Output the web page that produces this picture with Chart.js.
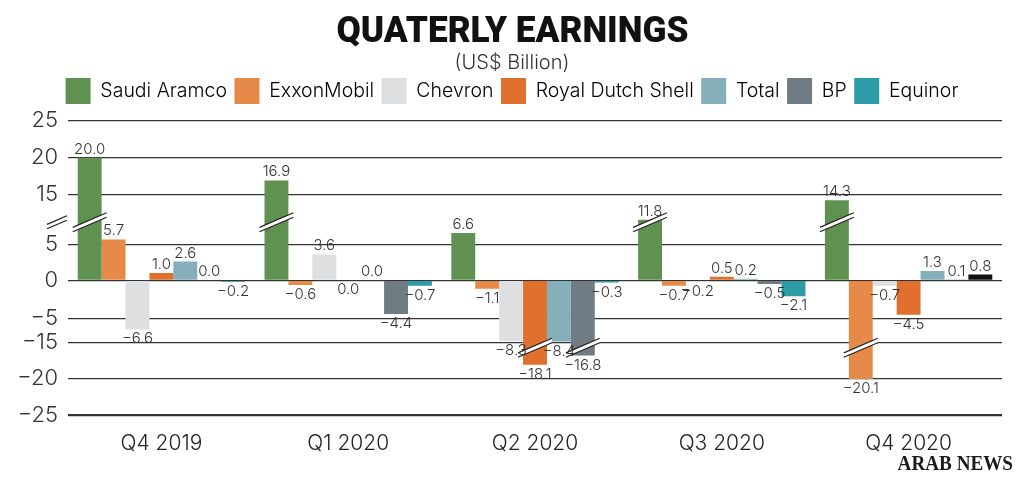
<!DOCTYPE html>
<html><head><meta charset="utf-8">
<script src="https://cdn.jsdelivr.net/npm/chart.js@4.4.1/dist/chart.umd.min.js"></script>
<style>html,body{margin:0;padding:0;background:#fff;}canvas{display:block;}</style>
</head><body>
<canvas id="c" width="1024" height="477"></canvas>
<script>
// ---------- data ----------
const categories = ['Q4 2019', 'Q1 2020', 'Q2 2020', 'Q3 2020', 'Q4 2020'];
const companies = ['Saudi Aramco', 'ExxonMobil', 'Chevron', 'Royal Dutch Shell', 'Total', 'BP', 'Equinor'];
const aramco  = [20.0, 16.9, 6.6, 11.8, 14.3];
const exxon   = [5.7, -0.6, -1.1, -0.7, -20.1];
const chevron = [-6.6, 3.6, -8.3, -0.2, -0.7];
const shell   = [1.0, -0.0, -18.1, 0.5, -4.5];
const total   = [2.6, 0.0, -8.4, 0.2, 1.3];
const bp      = [0.0, -4.4, -16.8, -0.5, 0.1];
const equinor = [-0.2, -0.7, -0.3, -2.1, 0.8];
const yTicks  = [25, 20, 15, 5, 0, -5, -15, -20, -25];
const titleText = 'QUATERLY EARNINGS';
const subtitleText = '(US$ Billion)';

const colors = ['#5f9150', '#e58a49', '#dedfe1', '#df702d', '#86afbc', '#6f7c83', '#2c9ca6'];
const equinorColors = ['#2c9ca6', '#2c9ca6', '#2c9ca6', '#2c9ca6', '#111111'];

// ---------- broken (piecewise) value axis ----------
const KNOTS = [[-25, -134.7], [-20, -98], [-15, -62.5], [-8.5, -62], [-5, -38.2], [0, 0],
               [5, 36], [7, 50], [12, 61], [15, 86], [20, 122.6], [25, 159.6]];
function interp(v, a, b) {
  const k = KNOTS;
  if (v <= k[0][a]) return k[0][b] + (v - k[0][a]) * (k[1][b] - k[0][b]) / (k[1][a] - k[0][a]);
  for (let i = 1; i < k.length; i++) {
    if (v <= k[i][a]) {
      const t = (v - k[i - 1][a]) / (k[i][a] - k[i - 1][a]);
      return k[i - 1][b] + t * (k[i][b] - k[i - 1][b]);
    }
  }
  const n = k.length - 1;
  return k[n][b] + (v - k[n][a]) * (k[n][b] - k[n - 1][b]) / (k[n][a] - k[n - 1][a]);
}
const fwd = v => interp(v, 0, 1);
const inv = u => interp(u, 1, 0);

class BrokenScale extends Chart.LinearScale {
  determineDataLimits() { this.min = fwd(-25); this.max = fwd(25); }
  buildTicks() { return yTicks.map(v => ({ value: v })); }
  getPixelForValue(v) {
    if (v === null || v === undefined || isNaN(v)) return NaN;
    return super.getPixelForValue(fwd(v));
  }
  getValueForPixel(p) { return inv(super.getValueForPixel(p)); }
}
BrokenScale.id = 'broken';
BrokenScale.defaults = Chart.LinearScale.defaults;
Chart.register(BrokenScale);

const fmt = v => (v < 0 ? '\u2212' : '') + Math.abs(v).toFixed(1);

// ---------- plugins ----------
function slash(ctx, cx, cy, hw) {
  const dy = hw * 0.43, g = 2.2;
  ctx.beginPath();
  ctx.moveTo(cx - hw, cy + dy - g); ctx.lineTo(cx + hw, cy - dy - g);
  ctx.lineTo(cx + hw, cy - dy + g); ctx.lineTo(cx - hw, cy + dy + g);
  ctx.closePath();
  ctx.fillStyle = '#ffffff'; ctx.fill();
  ctx.strokeStyle = '#222'; ctx.lineWidth = 1.2;
  ctx.beginPath();
  ctx.moveTo(cx - hw, cy + dy - g); ctx.lineTo(cx + hw, cy - dy - g);
  ctx.moveTo(cx - hw, cy + dy + g); ctx.lineTo(cx + hw, cy - dy + g);
  ctx.stroke();
}

const breakPlugin = {
  id: 'breakMarks',
  afterDatasetsDraw(chart) {
    const ctx = chart.ctx, y = chart.scales.y;
    const yU = (y.getPixelForValue(5) + y.getPixelForValue(15)) / 2 + 3;
    const yL = y.getPixelForValue(-15) + 5;
    ctx.save();
    chart.data.datasets.forEach((ds, di) => {
      chart.getDatasetMeta(di).data.forEach((bar, i) => {
        const v = ds.data[i];
        if (v >= 10) slash(ctx, bar.x, yU, bar.width / 2 + 5);
        else if (v <= -15) slash(ctx, bar.x, yL, bar.width / 2 + 5);
      });
    });
    slash(ctx, chart.chartArea.left - 11, yU, 10);
    ctx.restore();
  }
};

const labelPlugin = {
  id: 'barLabels',
  afterDatasetsDraw(chart) {
    const ctx = chart.ctx;
    ctx.save();
    ctx.font = '300 15px Inter, "Liberation Sans", sans-serif';
    ctx.fillStyle = '#333';
    ctx.textAlign = 'center';
    chart.data.datasets.forEach((ds, di) => {
      chart.getDatasetMeta(di).data.forEach((bar, i) => {
        const v = ds.data[i];
        const neg = v < 0 || Object.is(v, -0);
        if (neg) {
          ctx.textBaseline = 'top';
          ctx.fillText(fmt(v), bar.x, Math.max(bar.y, bar.base) + 2);
        } else {
          ctx.textBaseline = 'bottom';
          ctx.fillText(fmt(v), bar.x, Math.min(bar.y, bar.base) - 1);
        }
      });
    });
    ctx.restore();
  }
};

const headPlugin = {
  id: 'heading',
  afterDraw(chart) {
    const ctx = chart.ctx;
    ctx.save();
    ctx.font = '900 37px Roboto, "Liberation Sans", sans-serif';
    ctx.fillStyle = '#111';
    ctx.textAlign = 'center';
    ctx.textBaseline = 'alphabetic';
    const w = ctx.measureText(titleText).width;
    ctx.translate(512.5, 41.7);
    ctx.scale(352 / w, 1);
    ctx.fillText(titleText, 0, 0);
    ctx.restore();
    ctx.save();
    ctx.font = 'bold 22px "Liberation Serif", serif';
    ctx.fillStyle = '#1a1a1a';
    ctx.textAlign = 'right';
    ctx.textBaseline = 'alphabetic';
    ctx.translate(1013, 470);
    ctx.scale(0.87, 1);
    ctx.fillText('ARAB NEWS', 0, 0);
    ctx.restore();
  }
};

// empty layout box that keeps a little space between the legend and the plot
const spacerPlugin = {
  id: 'legendSpacer',
  beforeInit(chart) {
    Chart.layouts.addBox(chart, {
      position: 'top',
      weight: 500,
      fullSize: true,
      options: {},
      isHorizontal() { return true; },
      update(maxWidth) { this.width = maxWidth; this.height = 6.7; },
      draw() {}
    });
  }
};

// ---------- chart ----------
const series = [aramco, exxon, chevron, shell, total, bp, equinor];
Chart.defaults.font.family = 'Inter, "Liberation Sans", sans-serif';
Chart.defaults.color = '#333';

new Chart(document.getElementById('c'), {
  type: 'bar',
  data: {
    labels: categories,
    datasets: companies.map((name, k) => ({
      label: name,
      data: series[k],
      backgroundColor: k === 6 ? equinorColors : colors[k],
      borderWidth: 0,
      barPercentage: 1,
      categoryPercentage: 0.896
    }))
  },
  options: {
    responsive: false,
    animation: false,
    devicePixelRatio: 1,
    layout: { padding: 0 },
    plugins: {
      title: { display: false },
      subtitle: {
        display: true,
        text: subtitleText,
        color: '#333',
        font: { size: 20, weight: 300, lineHeight: 1 },
        padding: { top: 44, bottom: -2 }
      },
      legend: {
        display: true,
        position: 'top',
        labels: {
          boxWidth: 25, boxHeight: 26, padding: 7.5,
          color: '#333',
          font: { size: 19.5, weight: 300 },
          generateLabels(chart) {
            return chart.data.datasets.map((ds, i) => ({
              text: ds.label, fillStyle: colors[i], strokeStyle: colors[i],
              lineWidth: 0, hidden: false, datasetIndex: i
            }));
          }
        }
      },
      tooltip: { enabled: false }
    },
    scales: {
      x: {
        type: 'category',
        grid: { display: false },
        border: { display: false },
        ticks: { color: '#222', font: { size: 21, weight: 300 }, padding: 8.4 },
        afterFit(s) { s.height = 62; }
      },
      y: {
        type: 'broken',
        position: 'left',
        grid: {
          color: '#333',
          lineWidth: c => (c.tick && c.tick.value === -25 ? 2.2 : 1.3),
          drawTicks: false
        },
        border: { display: false },
        ticks: {
          autoSkip: false,
          padding: 10,
          color: '#333',
          font: { size: 22, weight: 300 },
          callback: v => (v < 0 ? '\u2212' : '') + Math.abs(v)
        },
        afterFit(s) { s.width = 68; s.paddingTop = 120.7; }
      },
      yRight: {
        type: 'linear',
        position: 'right',
        grid: { display: false },
        border: { display: false },
        ticks: { display: false },
        afterFit(s) { s.width = 22; }
      }
    }
  },
  plugins: [spacerPlugin, breakPlugin, labelPlugin, headPlugin]
});
</script>
</body></html>
